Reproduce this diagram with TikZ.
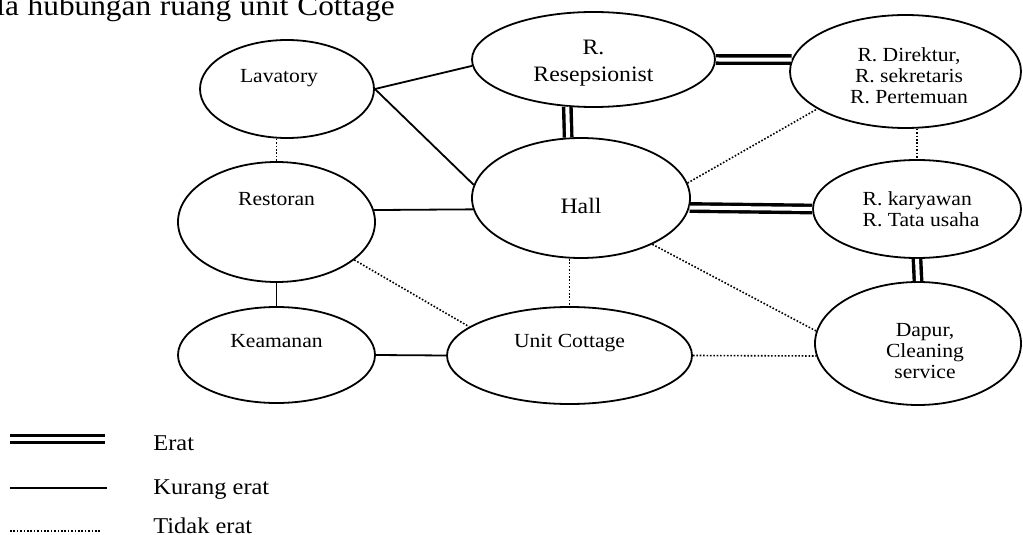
\documentclass[tikz,border=0pt]{standalone}
\usepackage{fontspec}
\newfontfamily\lblfont[FakeStretch=1.08]{Liberation Serif}
\usetikzlibrary{shapes.geometric}

\begin{document}
\begin{tikzpicture}[
    x=0.5pt, y=-0.5pt,
    room/.style={ellipse, draw, line width=0.9pt, inner sep=0pt},
    txt/.style={font=\lblfont\fontsize{10}{10.5}\selectfont, align=center},
    bigtxt/.style={font=\lblfont\fontsize{11}{13.5}\selectfont, align=center},
    lgd/.style={font=\lblfont\fontsize{11.3}{13}\selectfont, anchor=base west, inner sep=0pt},
    strong/.style={double, line width=1.7pt, double distance=2pt},
    medium/.style={line width=0.9pt},
    weak/.style={line width=0.8pt, dash pattern=on 0.8pt off 0.9pt}
]
    \useasboundingbox (0,0) rectangle (1023,535);
    \clip (0,0) rectangle (1023,535);

    % Judul (terpotong)
    \node[font=\lblfont\fontsize{14.5}{17}\selectfont, anchor=base west, inner sep=0pt] (title) at (-4,16)
        {\spaceskip=0.3em\relax la hubungan ruang unit Cottage};

    % Ruang-ruang
    \node[room, minimum width=87pt, minimum height=49pt,
        label={[txt, xshift=-4pt, yshift=5.2pt]center:Lavatory}] (lav) at (287,89) {};
    \node[room, minimum width=98.5pt, minimum height=60pt,
        label={[txt, yshift=11.3pt]center:Restoran}] (res) at (276.5,222) {};
    \node[room, minimum width=98.5pt, minimum height=48pt,
        label={[txt, yshift=6.8pt]center:Keamanan}] (kea) at (276.5,355) {};
    \node[room, minimum width=121.5pt, minimum height=47.5pt,
        label={[bigtxt, yshift=-2pt]center:R.\\Resepsionist}] (rsp) at (593.5,59.5) {};
    \node[room, minimum width=109pt, minimum height=60pt,
        label={[bigtxt, yshift=-3.75pt]center:Hall}] (hall) at (581,198) {};
    \node[room, minimum width=122.5pt, minimum height=48.5pt,
        label={[txt, yshift=6pt]center:Unit Cottage}] (uc) at (569.5,355.5) {};
    \node[room, minimum width=115.5pt, minimum height=56.5pt,
        label={[txt, xshift=1.75pt, yshift=-2.1pt]center:R. Direktur,\\R. sekretaris\\R. Pertemuan}] (dir) at (905.5,71.5) {};
    \node[room, minimum width=104pt, minimum height=49pt,
        label={[txt, align=left, xshift=2pt]center:R. karyawan\\R. Tata usaha}] (kar) at (917,209) {};
    \node[room, minimum width=103pt, minimum height=61.5pt,
        label={[txt, xshift=3.5pt, yshift=-3.6pt]center:Dapur,\\Cleaning\\service}] (dap) at (918,343.5) {};

    % Hubungan erat
    \draw[strong] (rsp.241) -- (hall.102);
    \draw[strong] (rsp.east) -- (dir.174);
    \draw[strong] (hall.355) -- (kar.west);
    \draw[strong] (kar.south) -- (dap.north);

    % Hubungan kurang erat
    \draw[medium] (lav.east) -- (rsp.183);
    \draw[medium] (lav.east) -- (hall.173);
    \draw[medium] (res.7) -- (hall.186);
    \draw[medium] (res.south) -- (kea.north);
    \draw[medium] (kea.east) -- (uc.west);

    % Hubungan tidak erat
    \draw[weak] (res.north |- lav.south) -- (res.north);
    \draw[weak] (hall.8) -- (dir.203);
    \draw[weak] (dir.south -| kar.north) -- (kar.north);
    \draw[weak] (res.334) -- (uc.164);
    \draw[weak] (hall.south -| uc.north) -- (uc.north);
    \draw[weak] (hall.327) -- (dap.173);
    \draw[weak] (uc.east) -- (dap.187);

    % Keterangan
    \coordinate (k1) at (10,439);
    \coordinate (k2) at (10,488);
    \coordinate (k3) at (10,531);
    \draw[strong] (k1) -- ++(95,0);
    \draw[medium] (k2) -- ++(97,0);
    \draw[weak] (k3) -- ++(90,0);
    \node[lgd] (erat) at (153,450) {Erat};
    \node[lgd] (kurang) at (153,494) {Kurang erat};
    \node[lgd] (tidak) at (153,533) {Tidak erat};
\end{tikzpicture}
\end{document}
